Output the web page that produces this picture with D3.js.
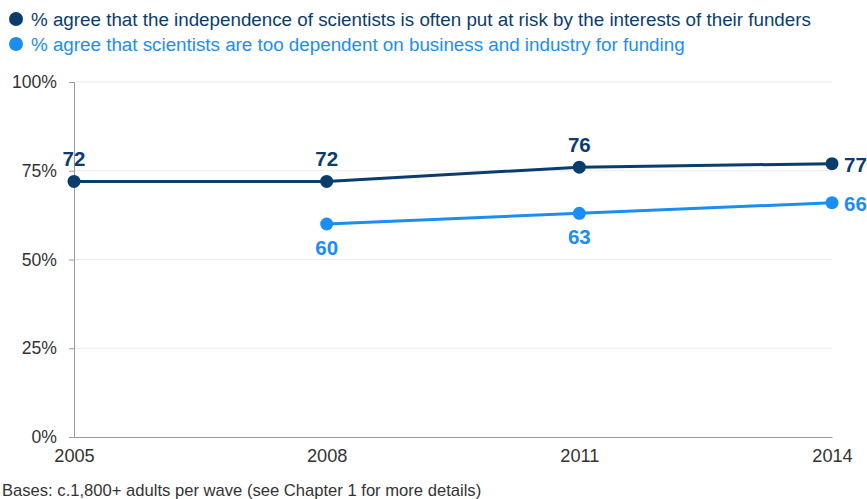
<!DOCTYPE html>
<html>
<head>
<meta charset="utf-8" />
<script src="https://d3js.org/d3.v7.min.js"></script>
<style>
  body { margin: 0; background: #fff; font-family: "Liberation Sans", Arial, sans-serif; }
  svg { display: block; }
</style>
</head>
<body>
<svg width="867" height="499"></svg>
<script>
const years = [2005, 2008, 2011, 2014];
const independence = [72, 72, 76, 77];
const dependent = [null, 60, 63, 66];
const yTicks = [0, 25, 50, 75, 100];
const legendLabels = [
  "% agree that the independence of scientists is often put at risk by the interests of their funders",
  "% agree that scientists are too dependent on business and industry for funding"
];
const footnote = "Bases: c.1,800+ adults per wave (see Chapter 1 for more details)";

const darkBlue = "#0b3c6e";
const lightBlue = "#1b8ef5";

const svg = d3.select("svg");
const margin = { left: 74, right: 35, top: 82, bottom: 62 };
const width = 867, height = 499;

const x = d3.scaleLinear().domain([2005, 2014]).range([margin.left, width - margin.right]);
const y = d3.scaleLinear().domain([0, 100]).range([height - margin.bottom, margin.top]);

// gridlines
svg.append("g")
  .selectAll("line")
  .data(yTicks.filter(d => d > 0))
  .join("line")
  .attr("x1", x(2005)).attr("x2", x(2014))
  .attr("y1", d => y(d)).attr("y2", d => y(d))
  .attr("stroke", "#ebebeb").attr("stroke-width", 1);

// y axis
const yAxis = svg.append("g")
  .attr("transform", `translate(${margin.left},0)`)
  .call(d3.axisLeft(y).tickValues(yTicks).tickFormat(d => d + "%").tickSize(5).tickPadding(12));
yAxis.select(".domain").attr("stroke", "#999");
yAxis.selectAll(".tick line").attr("stroke", "#999");
yAxis.selectAll("text").attr("font-size", 17.6).attr("fill", "#333")
  .attr("font-family", "'Liberation Sans', Arial, sans-serif");

// x axis
const xAxis = svg.append("g")
  .attr("transform", `translate(0,${y(0)})`)
  .call(d3.axisBottom(x).tickValues(years).tickFormat(d3.format("d")).tickSize(0).tickPadding(12));
xAxis.select(".domain").attr("stroke", "#999");
xAxis.selectAll("text").attr("font-size", 18.2).attr("fill", "#333")
  .attr("font-family", "'Liberation Sans', Arial, sans-serif");

function drawSeries(values, color, labelPos) {
  const pts = years.map((yr, i) => ({ yr, v: values[i], pos: labelPos[i] })).filter(d => d.v != null);
  const line = d3.line().x(d => x(d.yr)).y(d => y(d.v));
  svg.append("path").datum(pts)
    .attr("d", line).attr("fill", "none")
    .attr("stroke", color).attr("stroke-width", 3);
  svg.append("g").selectAll("circle").data(pts).join("circle")
    .attr("cx", d => x(d.yr)).attr("cy", d => y(d.v)).attr("r", 6.5)
    .attr("fill", color);
  svg.append("g").selectAll("text").data(pts).join("text")
    .attr("x", d => d.pos === "right" ? x(d.yr) + 12 : x(d.yr))
    .attr("y", d => d.pos === "above" ? y(d.v) - 15 : d.pos === "below" ? y(d.v) + 31 : y(d.v) + 8)
    .attr("text-anchor", d => d.pos === "right" ? "start" : "middle")
    .attr("font-size", 20.5).attr("font-weight", "bold").attr("fill", color)
    .text(d => d.v);
}

drawSeries(independence, darkBlue, ["above", "above", "above", "right"]);
drawSeries(dependent, lightBlue, [null, "below", "below", "right"]);

// legend
const legend = svg.append("g");
legendLabels.forEach((t, i) => {
  const c = i === 0 ? darkBlue : lightBlue;
  legend.append("circle").attr("cx", 16).attr("cy", 19 + i * 25).attr("r", 7).attr("fill", c);
  legend.append("text").attr("x", 31).attr("y", 25.5 + i * 25)
    .attr("font-size", 18.8).attr("fill", c).text(t);
});

svg.append("text").attr("x", 2).attr("y", 496)
  .attr("font-size", 16.6).attr("fill", "#333").text(footnote);
</script>
</body>
</html>
